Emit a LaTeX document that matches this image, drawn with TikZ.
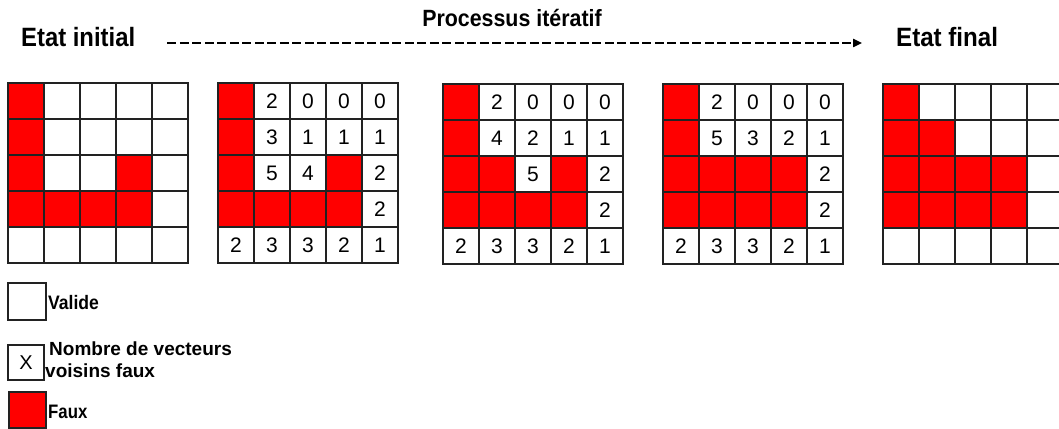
\documentclass[tikz,border=0pt]{standalone}
\usepackage{fontspec}
\setmainfont{Liberation Sans}
\usetikzlibrary{arrows.meta}
\definecolor{fauxred}{HTML}{FF0000}
\definecolor{gridline}{HTML}{222222}
\newcommand\cnd[2]{\scalebox{#1}[1]{#2}}
\def\RR{R}\def\WW{-}
\newcommand\mygrid[4]{%
  \foreach \v [count=\i from 0] in {#4}{%
    \pgfmathtruncatemacro\rr{\i/5}%
    \pgfmathtruncatemacro\cc{mod(\i,5)}%
    \ifx\v\RR
      \node[cell,fill=fauxred] (#1-\rr-\cc) at ({#2+18+36*\cc},{#3+18+36*\rr}) {};
    \else\ifx\v\WW
      \node[cell] (#1-\rr-\cc) at ({#2+18+36*\cc},{#3+18+36*\rr}) {};
    \else
      \node[cell] (#1-\rr-\cc) at ({#2+18+36*\cc},{#3+18+36*\rr}) {\v};
    \fi\fi
  }%
  \draw[gridborder] (#1-0-0.north west) rectangle (#1-4-4.south east);
}
\begin{document}
\begin{tikzpicture}[x=1pt,y=-1pt,
  cell/.style={draw=gridline,line width=1.2pt,minimum width=36pt,minimum height=36pt,inner sep=0pt,fill=white,
    font=\fontsize{21}{24}\selectfont},
  gridborder/.style={draw=gridline,line width=1.7pt},
  hdr/.style={inner sep=0pt,font=\bfseries\fontsize{26.5}{30}\selectfont},
  proc/.style={inner sep=0pt,font=\bfseries\fontsize{23.5}{27}\selectfont},
  legtxt/.style={inner sep=0pt,font=\bfseries\fontsize{19.5}{22}\selectfont},
  legtxtb/.style={inner sep=0pt,font=\bfseries\fontsize{19}{22}\selectfont},
  legbox/.style={draw=gridline,line width=1.2pt,inner sep=0pt,font=\fontsize{20}{24}\selectfont},
  dashline/.style={line width=2.5pt,dash pattern=on 9pt off 3.5pt,-{Triangle[length=9pt,width=8pt]}}
]
\useasboundingbox (0,0) rectangle (1059,428);
\clip (0,0) rectangle (1059,428);

% header
\node[hdr,anchor=base west] (init) at (21,47) {\cnd{0.9}{Etat initial}};
\node[hdr,anchor=base west] (final) at (896,47) {\cnd{0.91}{Etat final}};
\node[proc,anchor=base] (proc) at (512,27) {\cnd{0.91}{Processus itératif}};
\draw[dashline] ([shift={(32,-4)}]init.base east) -- ([shift={(-34,-4)}]final.base west);

% grids
\mygrid{ga}{8}{83}{R,-,-,-,-, R,-,-,-,-, R,-,-,R,-, R,R,R,R,-, -,-,-,-,-}
\mygrid{gb}{218}{83}{R,2,0,0,0, R,3,1,1,1, R,5,4,R,2, R,R,R,R,2, 2,3,3,2,1}
\mygrid{gc}{443}{84}{R,2,0,0,0, R,4,2,1,1, R,R,5,R,2, R,R,R,R,2, 2,3,3,2,1}
\mygrid{gd}{663}{84}{R,2,0,0,0, R,5,3,2,1, R,R,R,R,2, R,R,R,R,2, 2,3,3,2,1}
\mygrid{ge}{883}{84}{R,-,-,-,-, R,R,-,-,-, R,R,R,R,-, R,R,R,R,-, -,-,-,-,-}

% legend
\node[legbox,minimum width=38pt,minimum height=37pt,fill=white] (lv) at (27,301.5) {};
\node[legtxt,anchor=base west] (lvt) at (48,309) {\cnd{0.9}{Valide}};
\node[legbox,minimum width=36pt,minimum height=35pt,fill=white] (lx) at (26,362.5) {X};
\node[legtxtb,anchor=base west] (lxt1) at (49,355) {Nombre de vecteurs};
\node[legtxtb,anchor=base west] (lxt2) at (45,377) {voisins faux};
\node[legbox,minimum width=37pt,minimum height=36pt,fill=fauxred] (lf) at (27.5,410) {};
\node[legtxt,anchor=base west] (lft) at (48,418) {\cnd{0.86}{Faux}};
\end{tikzpicture}
\end{document}
